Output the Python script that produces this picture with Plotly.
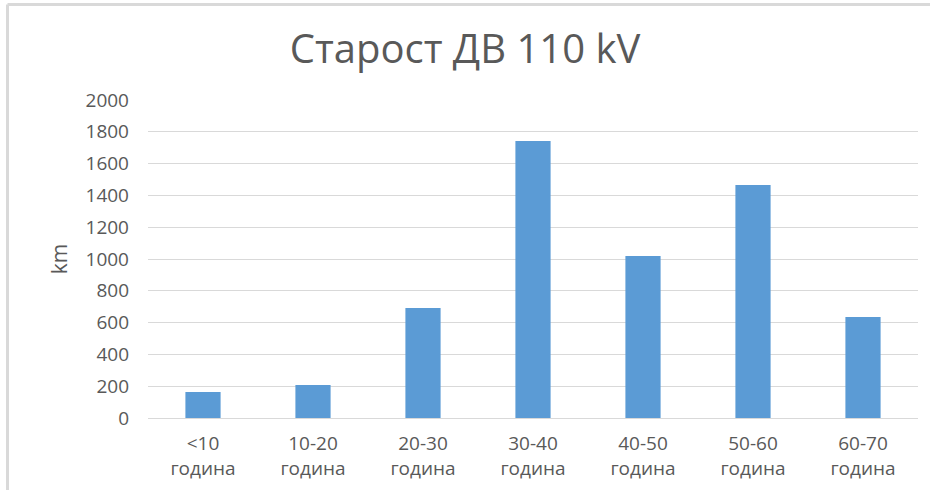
import plotly.graph_objects as go

# Старост на далноводи 110 kV по возраст
categories = ["<10<br>година", "10-20<br>година", "20-30<br>година", "30-40<br>година",
              "40-50<br>година", "50-60<br>година", "60-70<br>година"]
km_values = [163, 207, 692, 1742, 1019, 1465, 635]
y_ticks = list(range(0, 2001, 200))

W, H = 930, 490
ML, MR, MT, MB = 148, 12, 100, 72
pw, ph = W - ML - MR, H - MT - MB


def px_x(x):
    return (x - ML) / pw


def px_y(y):
    return (H - MB - y) / ph


fig = go.Figure()
fig.add_trace(go.Bar(
    x=categories,
    y=km_values,
    marker=dict(color="#5b9bd5", line=dict(width=0)),
    width=0.32,
))

fig.update_layout(
    width=W, height=H,
    margin=dict(l=ML, r=MR, t=MT, b=MB),
    plot_bgcolor="white", paper_bgcolor="white",
    showlegend=False,
    font=dict(family="Open Sans, sans-serif", color="#595959"),
    title=dict(text="Старост ДВ 110 kV", x=0.5, xanchor="center", y=0.9, yanchor="middle",
               font=dict(size=40, color="#595959", family="Open Sans, sans-serif")),
    xaxis=dict(showgrid=False, showline=False, ticks="", ticklabelstandoff=12, automargin=False,
               tickfont=dict(size=19, color="#595959")),
    yaxis=dict(range=[0, 2000], tickvals=y_ticks, showgrid=True, gridcolor="#d9d9d9",
               gridwidth=1, zeroline=True, zerolinecolor="#d9d9d9", zerolinewidth=1,
               automargin=False,
               tickfont=dict(size=19, color="#595959"), ticklabelstandoff=18,
               title=dict(text="km", font=dict(size=21, color="#595959"), standoff=12)),
    shapes=[
        dict(type="line", xref="paper", yref="paper", x0=px_x(7.5), x1=px_x(7.5),
             y0=px_y(4.5), y1=px_y(H), line=dict(color="#d9d9d9", width=3)),
        dict(type="line", xref="paper", yref="paper", x0=px_x(7.5), x1=px_x(W),
             y0=px_y(4.5), y1=px_y(4.5), line=dict(color="#d9d9d9", width=3)),
    ],
)

# без маргина на body, за сликата да почне од (0, 0)
fig.write_html("out.html", config={"displayModeBar": False},
               post_script="document.body.style.margin='0';")
